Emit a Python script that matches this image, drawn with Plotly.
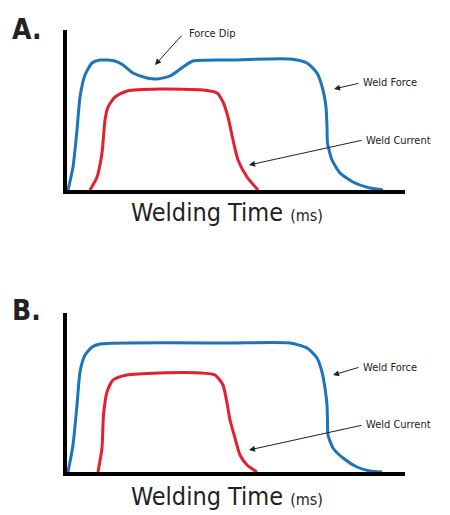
import plotly.graph_objects as go

W, H = 450, 515

# Panel A data (arbitrary units, x = time, y = magnitude)
a_force_t = [5, 10, 14, 17, 22, 29, 37, 52, 60, 70, 84, 94, 107, 120, 130, 167, 227, 244, 254, 260, 263, 264, 264.5, 269, 277, 290, 307, 320]
a_force_v = [2, 25, 62, 95, 117, 129, 132, 131, 127, 119, 114, 113, 116, 125, 131, 132, 133, 129, 119, 102, 85, 65, 49, 32, 19, 10, 4, 2]
a_curr_t = [27, 34, 39, 42, 45, 52, 64, 97, 140, 154, 160, 165, 170, 175, 184, 195]
a_curr_v = [2, 15, 39, 72, 85, 95, 101, 103, 102, 99, 90, 75, 52, 32, 15, 2]

# Panel B data
b_force_t = [5, 10, 14, 17, 22, 29, 37, 167, 227, 244, 254, 259, 262, 264, 264.5, 265, 270, 280, 294, 307, 319]
b_force_v = [3, 30, 70, 103, 120, 128, 131, 132, 132, 127, 117, 103, 87, 70, 53, 40, 27, 17, 8, 4, 3]
b_curr_t = [35, 39, 40.5, 44, 50, 64, 97, 137, 152, 160, 164, 167, 172, 177, 184, 194]
b_curr_v = [3, 27, 60, 83, 95, 100, 102, 102, 100, 90, 72, 55, 37, 20, 10, 3]

BLUE = "#1c75bb"
RED = "#e2202f"
FONT = "Liberation Sans Narrow, DejaVu Sans Condensed, Liberation Sans, sans-serif"

def px(x):
    return x / W

def py(y):
    return 1 - y / H

fig = go.Figure()
for ax_id, (ft, fv, ct, cv) in zip(["", "2"], [(a_force_t, a_force_v, a_curr_t, a_curr_v),
                                                (b_force_t, b_force_v, b_curr_t, b_curr_v)]):
    fig.add_trace(go.Scatter(x=ft, y=fv, mode="lines", line=dict(color=BLUE, width=3, shape="spline", smoothing=0.6),
                             xaxis="x" + ax_id, yaxis="y" + ax_id, showlegend=False, hoverinfo="skip",
                             cliponaxis=False))
    fig.add_trace(go.Scatter(x=ct, y=cv, mode="lines", line=dict(color=RED, width=3, shape="spline", smoothing=0.6),
                             xaxis="x" + ax_id, yaxis="y" + ax_id, showlegend=False, hoverinfo="skip",
                             cliponaxis=False))

axis_common = dict(showline=True, linecolor="black", linewidth=4, showgrid=False, zeroline=False,
                   showticklabels=False, ticks="", fixedrange=True)

fig.update_layout(
    width=W, height=H, margin=dict(l=0, r=0, t=0, b=0),
    paper_bgcolor="white", plot_bgcolor="white",
    xaxis=dict(domain=[px(67), px(405)], range=[4, 342], anchor="y", **axis_common),
    yaxis=dict(domain=[py(190), py(30)], range=[2, 162], anchor="x", **axis_common),
    xaxis2=dict(domain=[px(67), px(405)], range=[4, 342], anchor="y2", **axis_common),
    yaxis2=dict(domain=[py(472), py(313)], range=[3, 162], anchor="x2", **axis_common),
)

annots = []
# panel letters
annots.append(dict(x=px(10), y=py(29), text="<b>A.</b>", xanchor="left", yanchor="middle",
                   font=dict(family=FONT, size=28, color="#222")))
annots.append(dict(x=px(10), y=py(310), text="<b>B.</b>", xanchor="left", yanchor="middle",
                   font=dict(family=FONT, size=28, color="#222")))
# axis titles
for yy in [212, 496]:
    annots.append(dict(x=px(227), y=py(yy), text="Welding Time <span style='font-size:16px'>(ms)</span>",
                       xanchor="center", yanchor="middle", font=dict(family=FONT, size=25, color="#222")))

# text labels
labels = [("Force Dip", 187, 33), ("Weld Force", 361, 83), ("Weld Current", 364, 140),
          ("Weld Force", 361, 367), ("Weld Current", 364, 424)]
for t, x, y in labels:
    annots.append(dict(x=px(x), y=py(y), text=t, xanchor="left", yanchor="middle",
                       font=dict(family=FONT, size=11, color="#222")))

# arrows (tail -> head), in page pixels
arrows = [((183, 34), (155, 65)), ((360, 83), (334, 89)), ((363, 140), (249, 165)),
          ((360, 367), (333, 375)), ((363, 425), (249, 450))]
for (tx, ty), (hx, hy) in arrows:
    annots.append(dict(x=px(hx), y=py(hy), ax=tx - hx, ay=ty - hy,
                       text=" ", font=dict(size=1), showarrow=True, arrowhead=2, arrowsize=1.2, arrowwidth=1,
                       arrowcolor="#222", standoff=0, startstandoff=0))

for a in annots:
    a.setdefault("xref", "paper")
    a.setdefault("yref", "paper")
    a.setdefault("showarrow", False)
fig.update_layout(annotations=annots)

fig.write_html("out.html", config={"displayModeBar": False},
               post_script="document.body.style.margin='0';document.body.style.overflow='hidden';")
